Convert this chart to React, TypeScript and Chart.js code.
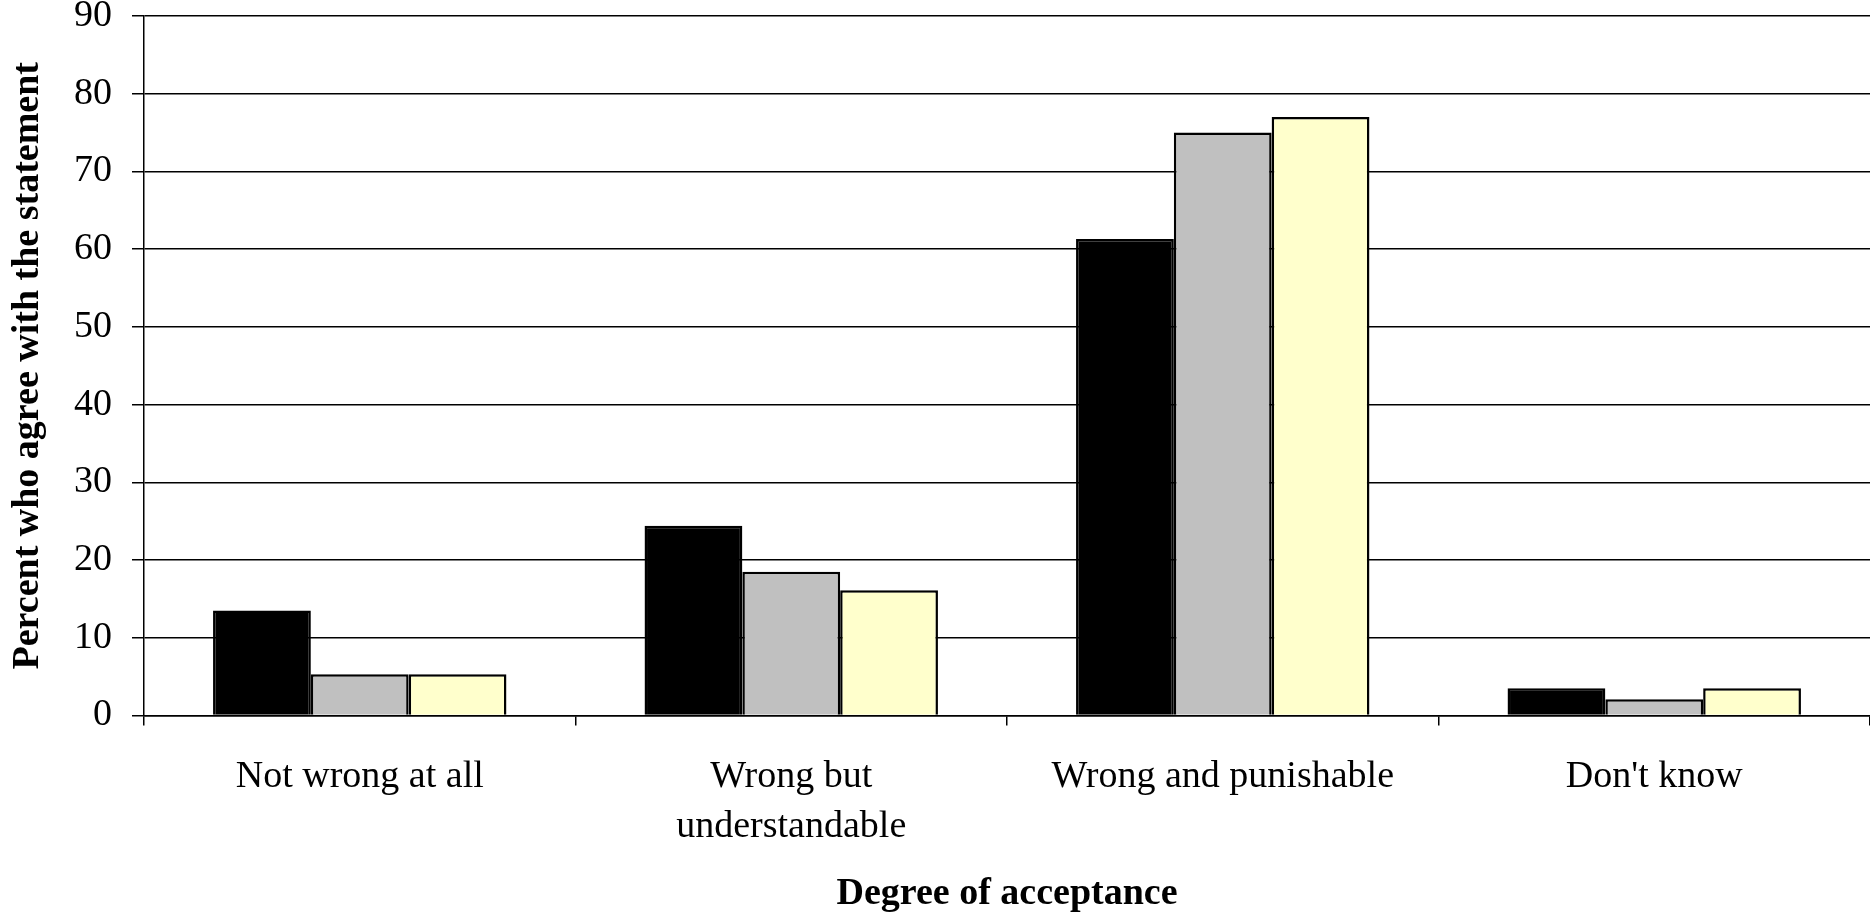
import React, { useEffect, useRef } from "react";
import { Chart, registerables } from "chart.js";

Chart.register(...registerables);

const categories: (string | string[])[] = [
  "Not wrong at all",
  ["Wrong but", "understandable"],
  "Wrong and punishable",
  "Don't know",
];
const seriesBlack = [13.5, 24.4, 61.3, 3.5];
const seriesGray = [5.3, 18.5, 75.0, 2.1];
const seriesYellow = [5.3, 16.1, 77.0, 3.5];
const yTicks = [0, 10, 20, 30, 40, 50, 60, 70, 80, 90];

const yTitle = "Percent who agree with the statement";
const xTitle = "Degree of acceptance";

export default function App() {
  const ref = useRef<HTMLCanvasElement | null>(null);

  useEffect(() => {
    if (!ref.current) return;
    const serif = "'Liberation Serif', 'Times New Roman', serif";
    const chart = new Chart(ref.current, {
      type: "bar",
      data: {
        labels: categories,
        datasets: [
          { label: "A", data: seriesBlack, backgroundColor: "#000000", borderColor: "#000000", borderWidth: 2.5 },
          { label: "B", data: seriesGray, backgroundColor: "#C0C0C0", borderColor: "#000000", borderWidth: 2.5 },
          { label: "C", data: seriesYellow, backgroundColor: "#FFFFCC", borderColor: "#000000", borderWidth: 2.5 },
        ],
      },
      options: {
        animation: false,
        responsive: false,
        maintainAspectRatio: false,
        layout: { padding: { top: 16, right: 0, bottom: 0, left: 0 } },
        plugins: {
          legend: { display: false },
          tooltip: { enabled: false },
        },
        datasets: {
          bar: { categoryPercentage: 0.68, barPercentage: 1 },
        },
        scales: {
          x: {
            type: "category",
            offset: true,
            grid: {
              offset: true,
              drawOnChartArea: false,
              drawTicks: true,
              tickLength: 10,
              color: "#000000",
              lineWidth: 1.5,
            },
            border: { display: true, color: "#000000", width: 1.5 },
            ticks: {
              color: "#000000",
              padding: 27,
              maxRotation: 0,
              autoSkip: false,
              font: { family: serif, size: 38, lineHeight: 1.3 },
            },
            title: {
              display: true,
              text: xTitle,
              color: "#000000",
              font: { family: serif, size: 38, weight: "bold", lineHeight: 1.2 },
              padding: { top: 0, bottom: 0 },
            },
            afterFit: (scale: any) => {
              scale.height = 201.5;
              scale.paddingLeft = 0;
              scale.paddingRight = 0;
            },
          },
          y: {
            type: "linear",
            min: 0,
            max: 90,
            afterBuildTicks: (scale: any) => {
              scale.ticks = yTicks.map((v) => ({ value: v }));
            },
            grid: {
              drawOnChartArea: true,
              drawTicks: true,
              tickLength: 12,
              color: "#000000",
              lineWidth: 1.5,
            },
            border: { display: true, color: "#000000", width: 1.5 },
            ticks: {
              color: "#000000",
              padding: 20,
              font: { family: serif, size: 38 },
            },
            title: {
              display: true,
              text: yTitle,
              color: "#000000",
              font: { family: serif, size: 38, weight: "bold", lineHeight: 1.2 },
              padding: { top: 5, bottom: 0 },
            },
            afterFit: (scale: any) => {
              scale.width = 144;
              scale.paddingTop = 0;
              scale.paddingBottom = 0;
            },
          },
        },
      },
    });
    return () => chart.destroy();
  }, []);

  return (
    <div style={{ position: "fixed", left: 0, top: 0, width: 1870, height: 917, background: "#ffffff" }}>
      <canvas ref={ref} width={1870} height={917} style={{ width: 1870, height: 917, display: "block" }} />
    </div>
  );
}
